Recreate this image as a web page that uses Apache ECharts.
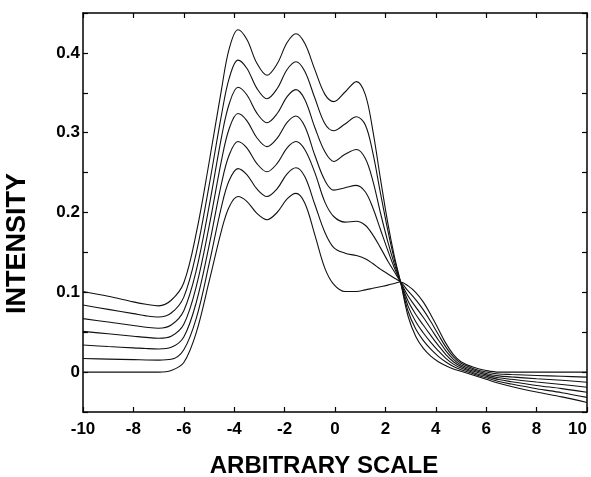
<!DOCTYPE html>
<html>
<head>
<meta charset="utf-8">
<script src="https://cdn.jsdelivr.net/npm/echarts@6/dist/echarts.min.js"></script>
<style>html,body{margin:0;padding:0;background:#fff;}#chart{width:591px;height:477px;}</style>
</head>
<body>
<div id="chart"></div>
<script>
// x positions (arbitrary scale)
const xs = [-10, -9, -8, -7.5, -7, -6.5, -6, -5.5, -5, -4.5, -4.2, -3.85, -3.5, -3.1, -2.7, -2.3, -1.9, -1.55, -1.2, -0.8, -0.4, -0.05, 0.4, 0.85, 1.2, 1.5, 1.8, 2.1, 2.35, 2.6, 2.9, 3.2, 3.5, 3.8, 4.1, 4.4, 4.7, 5.0, 5.5, 6.0, 6.5, 7, 8, 9, 10];

// intensity curves, bottom (c0) to top (c6) as seen at the peaks
const c0 = [0.0, 0.0, 0.0, 0.0, 0.0, 0.002, 0.012, 0.05, 0.113, 0.178, 0.207, 0.22, 0.214, 0.199, 0.191, 0.2, 0.217, 0.224, 0.212, 0.172, 0.13, 0.11, 0.101, 0.101, 0.103, 0.105, 0.107, 0.109, 0.111, 0.113, 0.108, 0.1, 0.088, 0.072, 0.054, 0.036, 0.022, 0.013, 0.006, 0.002, 0.0, 0.0, 0.0, 0.0, 0.0];
const c1 = [0.017, 0.0163, 0.0156, 0.0152, 0.015, 0.016, 0.028, 0.068, 0.135, 0.208, 0.24, 0.255, 0.2476, 0.2295, 0.22, 0.2297, 0.2484, 0.256, 0.245, 0.21, 0.175, 0.156, 0.149, 0.146, 0.142, 0.136, 0.129, 0.123, 0.118, 0.113, 0.1017, 0.0908, 0.0783, 0.0633, 0.0472, 0.0313, 0.019, 0.011, 0.0043, 0.0002, -0.0023, -0.003, -0.0042, -0.0052, -0.0063];
const c2 = [0.034, 0.032, 0.0304, 0.0295, 0.029, 0.031, 0.044, 0.088, 0.158, 0.237, 0.272, 0.289, 0.281, 0.2613, 0.251, 0.2613, 0.281, 0.289, 0.279, 0.25, 0.213, 0.195, 0.188, 0.189, 0.184, 0.172, 0.156, 0.139, 0.126, 0.113, 0.0953, 0.0817, 0.0687, 0.0547, 0.0403, 0.0267, 0.016, 0.009, 0.0027, -0.0017, -0.0047, -0.006, -0.0083, -0.0103, -0.0127];
const c3 = [0.051, 0.048, 0.045, 0.0435, 0.0425, 0.045, 0.06, 0.108, 0.182, 0.266, 0.305, 0.324, 0.3152, 0.2937, 0.2825, 0.2929, 0.3129, 0.321, 0.308, 0.2717, 0.24, 0.228, 0.231, 0.234, 0.226, 0.206, 0.179, 0.152, 0.131, 0.113, 0.089, 0.0725, 0.059, 0.046, 0.0335, 0.022, 0.013, 0.007, 0.001, -0.0035, -0.007, -0.009, -0.0125, -0.0155, -0.019];
const c4 = [0.067, 0.0627, 0.0584, 0.0563, 0.055, 0.059, 0.077, 0.128, 0.207, 0.295, 0.336, 0.357, 0.3476, 0.3245, 0.3125, 0.3237, 0.3452, 0.354, 0.3417, 0.3066, 0.276, 0.264, 0.273, 0.279, 0.268, 0.24, 0.2, 0.163, 0.136, 0.113, 0.0827, 0.0633, 0.0493, 0.0373, 0.0267, 0.0173, 0.01, 0.005, -0.0007, -0.0053, -0.0093, -0.012, -0.0167, -0.0207, -0.0253];
const c5 = [0.084, 0.0786, 0.0733, 0.0705, 0.069, 0.074, 0.094, 0.15, 0.233, 0.323, 0.368, 0.391, 0.3808, 0.3556, 0.3425, 0.355, 0.3792, 0.389, 0.377, 0.3434, 0.3113, 0.3025, 0.311, 0.32, 0.31, 0.275, 0.225, 0.177, 0.142, 0.113, 0.0763, 0.0542, 0.0397, 0.0287, 0.0198, 0.0127, 0.007, 0.003, -0.0023, -0.0072, -0.0117, -0.015, -0.0208, -0.0258, -0.0317];
const c6 = [0.101, 0.095, 0.088, 0.085, 0.083, 0.09, 0.112, 0.175, 0.262, 0.355, 0.405, 0.429, 0.417, 0.387, 0.372, 0.386, 0.413, 0.424, 0.412, 0.379, 0.348, 0.339, 0.351, 0.364, 0.348, 0.303, 0.243, 0.186, 0.146, 0.113, 0.07, 0.045, 0.03, 0.02, 0.013, 0.008, 0.004, 0.001, -0.004, -0.009, -0.014, -0.018, -0.025, -0.031, -0.038];

const curves = [c0, c1, c2, c3, c4, c5, c6];
const xTitle = 'ARBITRARY SCALE';
const yTitle = 'INTENSITY';

const chart = echarts.init(document.getElementById('chart'), null, {renderer: 'canvas'});
const FONT = '"Liberation Sans", Arial, Helvetica, sans-serif';
const axisLine = {show: true, onZero: false, lineStyle: {color: '#000', width: 1.5}};
const tick = {show: true, inside: true, length: 5, lineStyle: {color: '#000', width: 1.2}};

function yFmt(v) {
  const r = Math.round(v * 100) / 100;
  if (Math.abs(r * 10 - Math.round(r * 10)) > 1e-6) return '';
  if (Math.abs(r) < 1e-9) return '0';
  return r.toFixed(1);
}

const option = {
  backgroundColor: '#fff',
  animation: false,
  grid: {left: 83, right: 4, top: 13, bottom: 65, containLabel: false, outerBoundsMode: 'none'},
  xAxis: [
    {
      type: 'value', min: -10, max: 10, interval: 2, position: 'bottom',
      axisLine: axisLine, axisTick: tick, splitLine: {show: false},
      axisLabel: {color: '#000', fontFamily: FONT, fontWeight: 'bold', fontSize: 17, margin: 9, alignMaxLabel: 'right'},
      name: xTitle, nameLocation: 'middle', nameGap: 42,
      nameTextStyle: {color: '#000', fontFamily: FONT, fontWeight: 'bold', fontSize: 24, padding: [0, 22, 0, 0]}
    },
    {
      type: 'value', min: -10, max: 10, interval: 2, position: 'top',
      axisLine: axisLine, axisTick: tick, splitLine: {show: false},
      axisLabel: {show: false}
    }
  ],
  yAxis: [
    {
      type: 'value', min: -0.05, max: 0.45, interval: 0.05, position: 'left',
      axisLine: axisLine, axisTick: tick, splitLine: {show: false},
      axisLabel: {color: '#000', fontFamily: FONT, fontWeight: 'bold', fontSize: 17, margin: 3, formatter: yFmt},
      name: yTitle, nameLocation: 'middle', nameGap: 52, nameRotate: 90,
      nameTextStyle: {color: '#000', fontFamily: FONT, fontWeight: 'bold', fontSize: 27, padding: [0, 62, 0, 0]}
    },
    {
      type: 'value', min: -0.05, max: 0.45, interval: 0.05, position: 'right',
      axisLine: axisLine, axisTick: tick, splitLine: {show: false},
      axisLabel: {show: false}
    }
  ],
  series: curves.map((c, k) => ({
    type: 'line',
    name: 'curve ' + (k + 1),
    xAxisIndex: 0, yAxisIndex: 0,
    data: xs.map((x, i) => [x, c[i]]),
    showSymbol: false,
    smooth: 0.35,
    lineStyle: {color: '#111', width: 1.1},
    silent: true
  }))
};
chart.setOption(option);
</script>
</body>
</html>
